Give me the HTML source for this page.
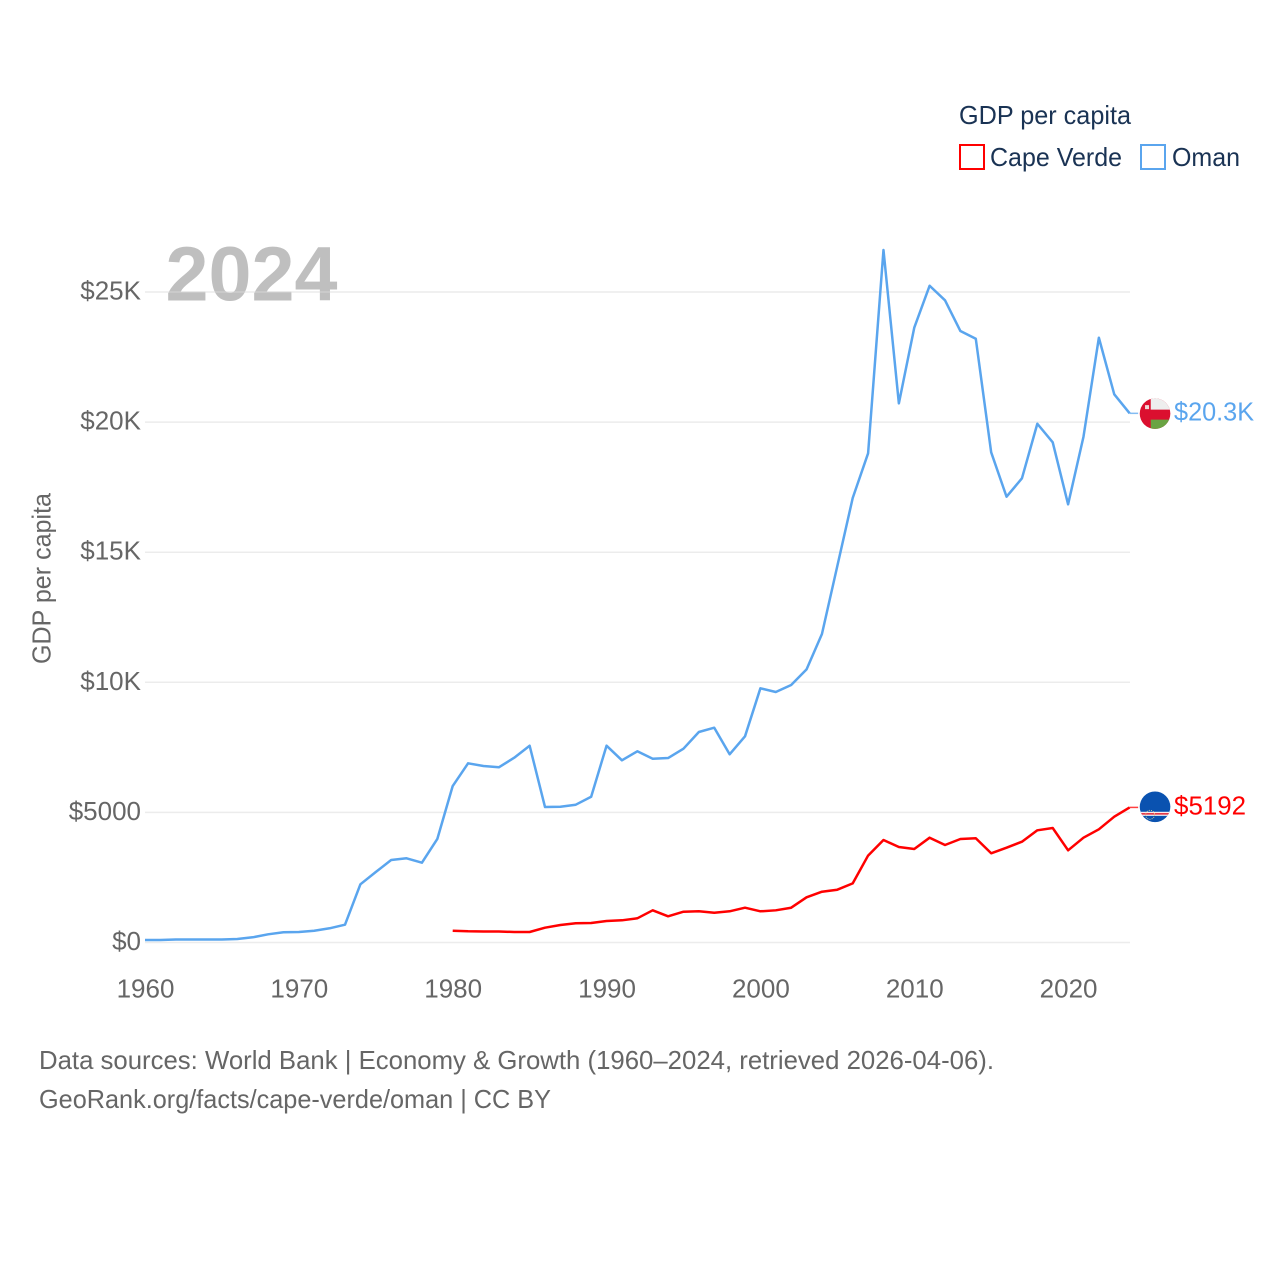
<!DOCTYPE html>
<html lang="en">
<head>
<meta charset="utf-8">
<title>GDP per capita: Cape Verde and Oman</title>
<style>
  html, body { margin: 0; padding: 0; background: #fff; }
  svg { display: block; font-family: "Liberation Sans", sans-serif; }
</style>
</head>
<body>
<svg id="chart" width="1280" height="1280" viewBox="0 0 1280 1280" xmlns="http://www.w3.org/2000/svg">
  <defs>
    <clipPath id="flag-clip"><circle cx="0" cy="0" r="15.3"></circle></clipPath>
  </defs>
  <rect x="0" y="0" width="1280" height="1280" fill="#ffffff"></rect>

  <text x="165.5" y="300.5" font-size="77" font-weight="700" fill="#bfbfbf" textLength="172" lengthAdjust="spacingAndGlyphs">2024</text>

  <g id="grid"></g>
  <g id="y-axis"></g>
  <g id="x-axis"></g>
  <g id="series"></g>

  <text transform="translate(50.5,664) rotate(-90)" font-size="26" fill="#666666" textLength="171" lengthAdjust="spacingAndGlyphs">GDP per capita</text>

  <g>
    <text x="959" y="124" font-size="26" fill="#1a3354" textLength="172" lengthAdjust="spacingAndGlyphs">GDP per capita</text>
    <g>
      <rect x="960" y="145" width="24" height="24" fill="none" stroke="#ff0000" stroke-width="2"></rect>
      <text x="990" y="166" font-size="26" fill="#1a3354" textLength="132" lengthAdjust="spacingAndGlyphs">Cape Verde</text>
    </g>
    <g>
      <rect x="1141" y="145" width="24" height="24" fill="none" stroke="#5aa5ee" stroke-width="2"></rect>
      <text x="1172" y="166" font-size="26" fill="#1a3354" textLength="68" lengthAdjust="spacingAndGlyphs">Oman</text>
    </g>
  </g>

  <g id="end-oman">
    <g clip-path="url(#flag-clip)">
      <rect x="-16" y="-16" width="32" height="32" fill="#db0f2f"></rect>
      <rect x="-4.3" y="-16" width="20" height="12" fill="#eeeeee"></rect>
      <rect x="-4.3" y="6" width="20" height="10" fill="#6aa443"></rect>
      <rect x="-10" y="-8.5" width="4" height="4" fill="#f0d8d8"></rect>
    </g>
    <text id="end-label-oman" x="19" y="7" font-size="26" fill="#5aa5ee" textLength="80" lengthAdjust="spacingAndGlyphs"></text>
  </g>
  <g id="end-cv">
    <g clip-path="url(#flag-clip)">
      <rect x="-16" y="-16" width="32" height="32" fill="#0a52b0"></rect>
      <rect x="-16" y="5" width="32" height="4" fill="#ffffff"></rect>
      <rect x="-16" y="6.1" width="32" height="1.8" fill="#e23a4a"></rect>
      <circle cx="-5" cy="8" r="4.5" fill="none" stroke="#e8d890" stroke-width="0.9" stroke-dasharray="1 1.2"></circle>
    </g>
    <text id="end-label-cv" x="19" y="7.5" font-size="26" fill="#ff0000" textLength="72" lengthAdjust="spacingAndGlyphs"></text>
  </g>

  <g>
    <text x="39" y="1069" font-size="26" fill="#666666" textLength="955" lengthAdjust="spacingAndGlyphs">Data sources: World Bank | Economy &amp; Growth (1960–2024, retrieved 2026-04-06).</text>
    <text x="39" y="1108" font-size="26" fill="#666666" textLength="512" lengthAdjust="spacingAndGlyphs">GeoRank.org/facts/cape-verde/oman | CC BY</text>
  </g>
</svg>
<script>
const omanYears = [1960,1961,1962,1963,1964,1965,1966,1967,1968,1969,1970,1971,1972,1973,1974,1975,1976,1977,1978,1979,1980,1981,1982,1983,1984,1985,1986,1987,1988,1989,1990,1991,1992,1993,1994,1995,1996,1997,1998,1999,2000,2001,2002,2003,2004,2005,2006,2007,2008,2009,2010,2011,2012,2013,2014,2015,2016,2017,2018,2019,2020,2021,2022,2023,2024];
const omanValues = [96,96,115,115,115,115,134,200,315,392,404,453,546,684,2237,2709,3170,3236,3067,3978,6014,6887,6783,6733,7102,7563,5207,5219,5296,5603,7563,7002,7348,7063,7090,7448,8090,8255,7233,7924,9769,9627,9896,10499,11856,14469,17082,18800,26613,20722,23627,25241,24680,23500,23204,18838,17132,17839,19937,19223,16840,19438,23242,21067,20337];
const capeVerdeYears = [1980,1981,1982,1983,1984,1985,1986,1987,1988,1989,1990,1991,1992,1993,1994,1995,1996,1997,1998,1999,2000,2001,2002,2003,2004,2005,2006,2007,2008,2009,2010,2011,2012,2013,2014,2015,2016,2017,2018,2019,2020,2021,2022,2023,2024];
const capeVerdeValues = [453,430,423,423,404,404,569,672,738,749,826,853,930,1237,1007,1184,1199,1145,1199,1337,1199,1237,1337,1737,1952,2029,2273,3341,3939,3670,3593,4028,3747,3978,4005,3429,3644,3874,4312,4400,3543,4028,4351,4834,5192];
const yTickValues = [0,5000,10000,15000,20000,25000];
const yTickLabels = ["$0","$5000","$10K","$15K","$20K","$25K"];
const xTickValues = [1960,1970,1980,1990,2000,2010,2020];

const NS = "http://www.w3.org/2000/svg";
function xScale(year) { return 145 + (year - 1960) * 15.385; }
function yScale(value) { return 942.5 - value * 0.02602; }
function formatValue(v) {
  return v >= 10000 ? "$" + (v / 1000).toFixed(1) + "K" : "$" + Math.round(v);
}
function make(tag, attrs) {
  const el = document.createElementNS(NS, tag);
  for (const k in attrs) el.setAttribute(k, attrs[k]);
  return el;
}

const grid = document.getElementById("grid");
const yAxis = document.getElementById("y-axis");
yTickValues.forEach(function (v, i) {
  const line = make("line", { x1: 145, x2: 1130, y1: yScale(v), y2: yScale(v), stroke: "#dcdcdc", "stroke-opacity": "0.55", "stroke-width": 1.5 });
  
  
  grid.appendChild(line);
  const label = make("text", { x: 141, y: yScale(v) + 7.5, "text-anchor": "end", "font-size": 26, fill: "#666666" });
  
  
  label.textContent = yTickLabels[i];
  yAxis.appendChild(label);
});

const xAxis = document.getElementById("x-axis");
xTickValues.forEach(function (year) {
  const label = make("text", { x: xScale(year) + 0.5, y: 997.5, "text-anchor": "middle", "font-size": 26, fill: "#666666" });
  
  
  label.textContent = String(year);
  xAxis.appendChild(label);
});

function drawSeries(years, values, color) {
  const group = document.getElementById("series");
  const points = years.map(function (y, i) { return xScale(y) + "," + yScale(values[i]); }).join(" ");
  const line = make("polyline", { points: points, fill: "none", stroke: color, "stroke-width": 2.5, "stroke-linejoin": "round" });
  
  
  group.appendChild(line);
  const lastX = xScale(years[years.length - 1]);
  const lastY = yScale(values[values.length - 1]);
  const connector = make("line", { x1: lastX, x2: lastX + 8.5, y1: lastY, y2: lastY, stroke: color, "stroke-opacity": "0.75", "stroke-width": 1.5 });
  
  
  group.appendChild(connector);
}
drawSeries(omanYears, omanValues, "#5aa5ee");
drawSeries(capeVerdeYears, capeVerdeValues, "#ff0000");

function placeEnd(groupId, labelId, years, values, dy) {
  const x = xScale(years[years.length - 1]) + 25.4;
  const y = yScale(values[values.length - 1]) + dy;
  document.getElementById(groupId).setAttribute("transform", "translate(" + x + "," + y + ")");
  document.getElementById(labelId).textContent = formatValue(values[values.length - 1]);
}
placeEnd("end-oman", "end-label-oman", omanYears, omanValues, 0.3);
placeEnd("end-cv", "end-label-cv", capeVerdeYears, capeVerdeValues, -0.6);
</script>
</body>
</html>
